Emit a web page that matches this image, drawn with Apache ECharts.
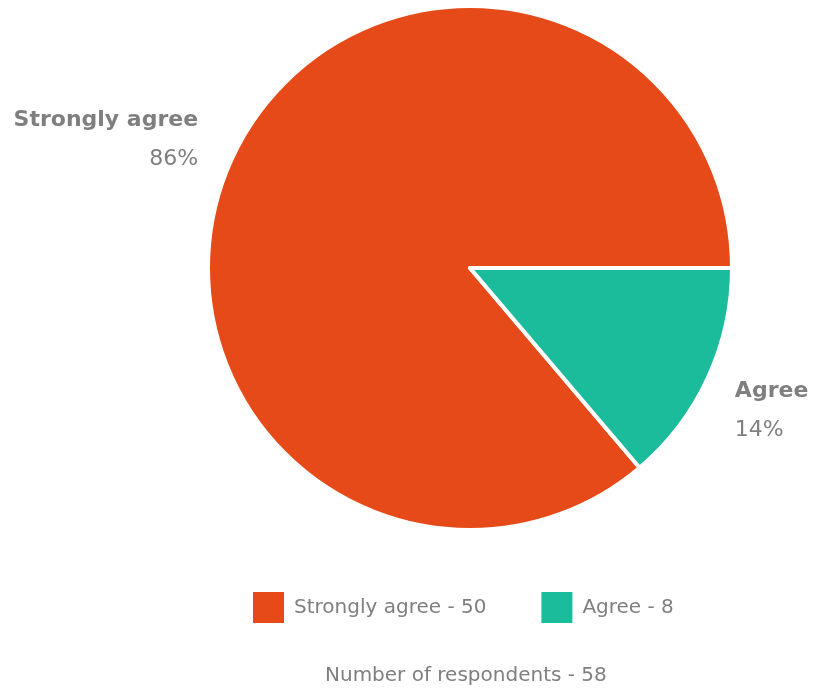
<!DOCTYPE html>
<html>
<head>
<meta charset="utf-8">
<script src="https://cdn.jsdelivr.net/npm/echarts@6/dist/echarts.min.js"></script>
<style>
    html, body { margin: 0; padding: 0; background: #fff; }
    #chart { width: 814px; height: 688px; }
</style>
</head>
<body>
<div id="chart"></div>
<script>

const categories = ['Strongly agree', 'Agree'];
const counts = [50, 8];
const colors = ['#E64A19', '#1ABC9C'];
const totalText = 'Number of respondents - 58';

const fontFamily = '"DejaVu Sans", "Open Sans", sans-serif';
const textColor = '#7f7f7f';

const chart = echarts.init(document.getElementById('chart'));

const option = {
    animation: false,
    title: {
        text: totalText,
        left: 325,
        top: 666,
        padding: 0,
        textStyle: {
            fontFamily: fontFamily,
            fontSize: 20,
            fontWeight: 'normal',
            color: textColor
        }
    },
    legend: {
        data: categories,
        left: 251,
        top: 590,
        padding: 0,
        itemWidth: 33,
        itemHeight: 33,
        itemGap: 53,
        icon: 'rect',
        formatter: name => `${name} - ${counts[categories.indexOf(name)]}`,
        textStyle: {
            fontFamily: fontFamily,
            fontSize: 20,
            color: textColor,
            padding: [0, 0, 0, 4]
        }
    },
    series: [
        {
            type: 'pie',
            center: [470, 268],
            radius: 262,
            startAngle: 0,
            clockwise: false,
            percentPrecision: 0,
            itemStyle: {
                borderColor: '#fff',
                borderWidth: 4
            },
            label: {
                show: true,
                position: 'outside',
                overflow: 'none',
                formatter: '{b|{b}}\n{d|{d}%}',
                rich: {
                    b: {
                        fontFamily: fontFamily,
                        fontSize: 22,
                        fontWeight: 'bold',
                        color: textColor,
                        lineHeight: 40
                    },
                    d: {
                        fontFamily: fontFamily,
                        fontSize: 22,
                        color: textColor,
                        lineHeight: 38
                    }
                }
            },
            labelLine: {
                show: false,
                length: 10,
                length2: 15
            },
            labelLayout: params => (params.dataIndex === 0
                ? { dx: -5, dy: -15 }
                : { dx: -2, dy: 28 }),
            data: categories.map((name, i) => ({
                name: name,
                value: counts[i],
                itemStyle: { color: colors[i] }
            }))
        }
    ]
};

option && chart.setOption(option);

</script>
</body>
</html>
